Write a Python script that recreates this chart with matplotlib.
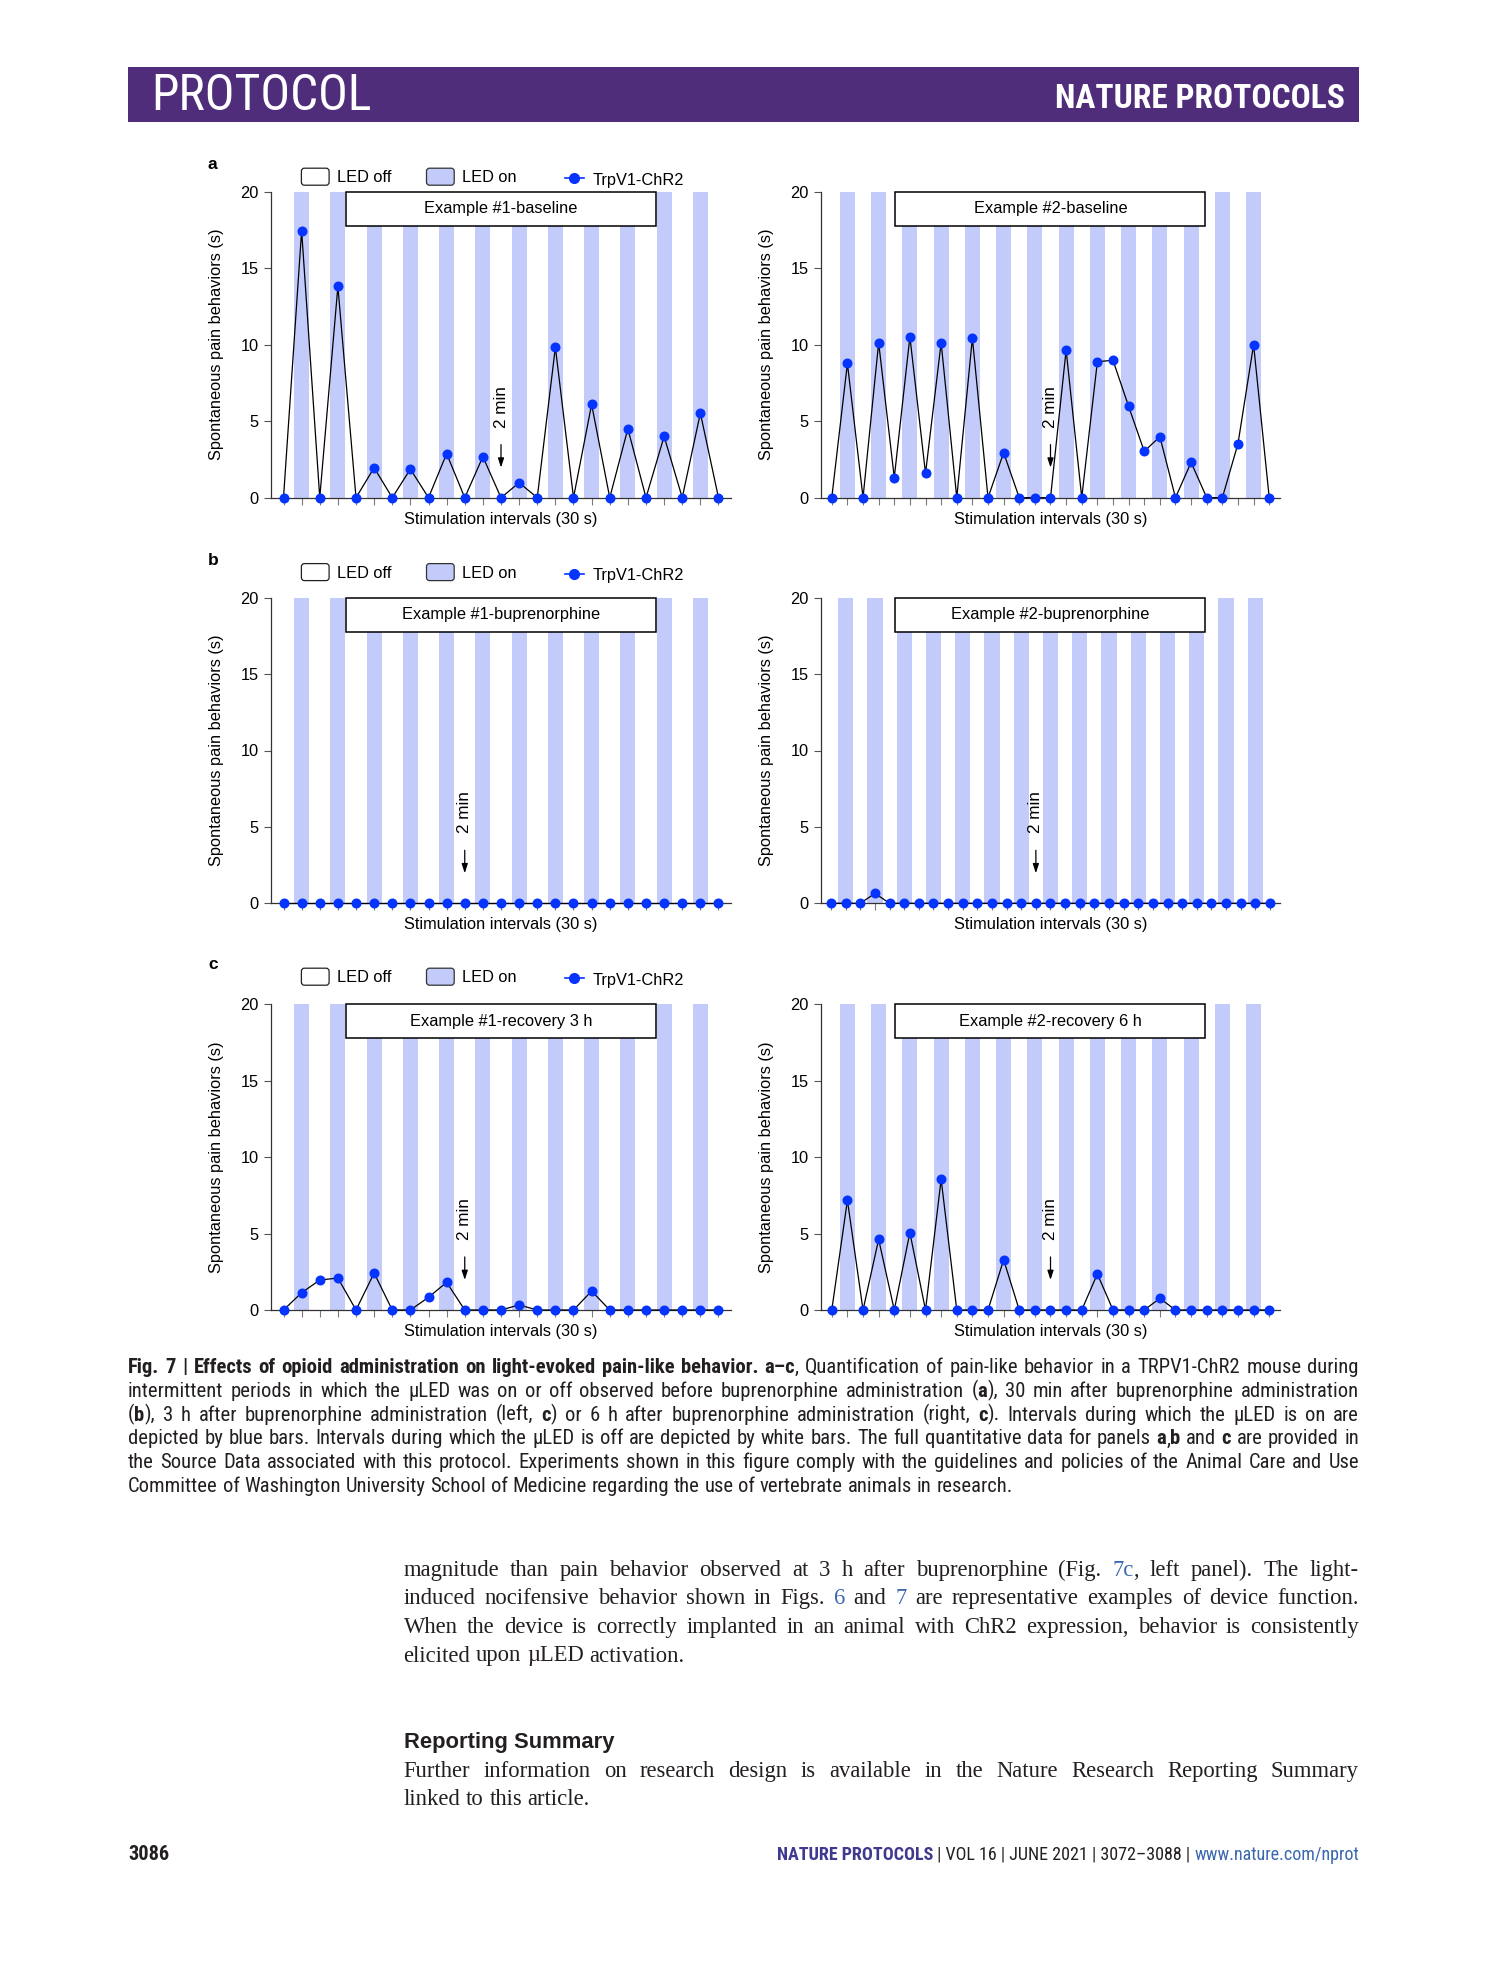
import re
import numpy as np
import matplotlib
matplotlib.use('Agg')
import matplotlib.pyplot as plt
from matplotlib import font_manager
from matplotlib.patches import FancyBboxPatch, Rectangle

W, H = 1489, 1978

# values, one per 30 s stimulation interval
a1_vals = [0, 17.45, 0, 13.81, 0, 1.96, 0, 1.87, 0, 2.88, 0, 2.68, 0,
           0.98, 0, 9.83, 0, 6.10, 0, 4.51, 0, 4.01, 0, 5.53, 0]
a2_vals = [0, 8.78, 0, 10.13, 1.31, 10.52, 1.59, 10.13, 0, 10.44, 0, 2.94,
           0, 0, 0, 9.65, 0, 8.89, 8.98, 5.97, 3.03, 3.99, 0, 2.31, 0, 0,
           3.53, 10.0, 0]
b1_vals = [0, 0, 0, 0, 0, 0, 0, 0, 0, 0, 0, 0, 0, 0, 0, 0, 0, 0, 0, 0, 0, 0,
           0, 0, 0]
b2_vals = [0, 0, 0, 0.65, 0, 0, 0, 0, 0, 0, 0, 0, 0, 0, 0, 0, 0, 0, 0, 0, 0,
           0, 0, 0, 0, 0, 0, 0, 0, 0, 0]
c1_vals = [0, 1.13, 1.96, 2.09, 0, 2.42, 0, 0, 0.83, 1.81, 0, 0, 0, 0.33, 0,
           0, 0, 1.24, 0, 0, 0, 0, 0, 0, 0]
c2_vals = [0, 7.18, 0, 4.62, 0, 5.06, 0, 8.55, 0, 0, 0, 3.29, 0, 0, 0, 0, 0,
           2.36, 0, 0, 0, 0.76, 0, 0, 0, 0, 0, 0, 0]

titles = ['Example #1-baseline', 'Example #2-baseline',
          'Example #1-buprenorphine', 'Example #2-buprenorphine',
          'Example #1-recovery 3 h', 'Example #2-recovery 6 h']
arrow_idx = [12, 14, 10, 14, 10, 14]
yticks = [0, 5, 10, 15, 20]

caption = [
    '**Fig. 7 | Effects of opioid administration on light-evoked pain-like behavior. a\u2013c**, Quantification of pain-like behavior in a TRPV1-ChR2 mouse during',
    'intermittent periods in which the \u00b5LED was on or off observed before buprenorphine administration (**a**), 30 min after buprenorphine administration',
    '(**b**), 3 h after buprenorphine administration (left, **c**) or 6 h after buprenorphine administration (right, **c**). Intervals during which the \u00b5LED is on are',
    'depicted by blue bars. Intervals during which the \u00b5LED is off are depicted by white bars. The full quantitative data for panels **a**,**b** and **c** are provided in',
    'the Source Data associated with this protocol. Experiments shown in this figure comply with the guidelines and policies of the Animal Care and Use',
    'Committee of Washington University School of Medicine regarding the use of vertebrate animals in research.',
]
body1 = [
    'magnitude than pain behavior observed at 3 h after buprenorphine (Fig. [[7c]], left panel). The light-',
    'induced nocifensive behavior shown in Figs. [[6]] and [[7]] are representative examples of device function.',
    'When the device is correctly implanted in an animal with ChR2 expression, behavior is consistently',
    'elicited upon \u00b5LED activation.',
]
body2 = [
    'Further information on research design is available in the Nature Research Reporting Summary',
    'linked to this article.',
]

BAR = '#c2cbfa'
DOT = '#0534ff'
PURPLE = '#4f2d7b'
INK = '#231f20'
LINK = '#3a67b0'
FS = 11.8

names = {f.name for f in font_manager.fontManager.ttflist}
COND = 'Liberation Sans'
for cand in ['Liberation Sans Narrow', 'DejaVu Sans Condensed', 'Roboto Condensed']:
    if cand in names:
        COND = cand
        break

plt.rcParams['font.family'] = ['Liberation Sans', 'DejaVu Sans']

fig = plt.figure(figsize=(W / 100, H / 100), dpi=100)
R = fig.canvas.get_renderer()

pg = fig.add_axes([0, 0, 1, 1])
pg.set_xlim(0, W)
pg.set_ylim(H, 0)
pg.axis('off')


def text_width(s, **kw):
    t = pg.text(0, 0, s, **kw)
    w = t.get_window_extent(renderer=R).width
    t.remove()
    return w


def fit_text(x, y, s, width, ha='left', **kw):
    # size the text so that it spans the measured width
    w = text_width(s, fontsize=20, **kw)
    return pg.text(x, y, s, fontsize=20 * width / w, ha=ha, va='baseline',
                   **kw)


def styled_words(line):
    words = [[]]
    for seg in re.split(r'(\*\*.+?\*\*|\[\[.+?\]\])', line):
        if not seg:
            continue
        st = 'n'
        if seg.startswith('**'):
            seg, st = seg[2:-2], 'b'
        elif seg.startswith('[['):
            seg, st = seg[2:-2], 'l'
        for i, part in enumerate(seg.split(' ')):
            if i > 0:
                words.append([])
            if part:
                words[-1].append((part, st))
    return [w for w in words if w]


def widest_line(lines, st):
    sp = text_width('a a', **st['n']) - text_width('aa', **st['n'])
    widest = 0
    for line in lines:
        ww = styled_words(line)
        tot = sum(text_width(p, **st[s]) for w in ww for p, s in w)
        widest = max(widest, tot + sp * (len(ww) - 1))
    return widest, sp


def text_block(lines, x0, x1, y0, dy, styles, size, fill=None):
    st = {k: dict(v, fontsize=size) for k, v in styles.items()}
    widest, sp = widest_line(lines, st)
    if fill is not None or widest > (x1 - x0):
        size = size * (fill or 1.0) * (x1 - x0) / widest
        st = {k: dict(v, fontsize=size) for k, v in styles.items()}
        widest, sp = widest_line(lines, st)
    for k, line in enumerate(lines):
        y = y0 + k * dy
        items = []
        for w in styled_words(line):
            pcs = []
            for p, s in w:
                t = pg.text(0, y, p, ha='left', va='baseline', **st[s])
                pcs.append((t, t.get_window_extent(renderer=R).width))
            items.append(pcs)
        widths = [sum(p[1] for p in pcs) for pcs in items]
        if k == len(lines) - 1:
            gap = sp
        else:
            gap = (x1 - x0 - sum(widths)) / (len(items) - 1)
        x = x0
        for pcs, wd in zip(items, widths):
            xx = x
            for t, tw in pcs:
                t.set_x(xx)
                xx += tw
            x += wd + gap


# header bar
pg.add_patch(Rectangle((128, 67), 1231, 55, fc=PURPLE, ec='none'))
fit_text(151, 110, 'PROTOCOL', 221, family=COND, color='white')
fit_text(1345, 107.7, 'NATURE PROTOCOLS', 290, ha='right', family=COND,
         weight='bold', color='white')

# panels
LEFT = (271, 731)
RIGHT = (821, 1280)
ROWS = [(191.7, 497.7), (597.7, 903.3), (1004.3, 1310)]
LEG_Y = [176.7, 572.1, 976.7]
all_vals = [a1_vals, a2_vals, b1_vals, b2_vals, c1_vals, c2_vals]

for i, vals in enumerate(all_vals):
    x0, x1 = LEFT if i % 2 == 0 else RIGHT
    y0, y1 = ROWS[i // 2]
    ax = fig.add_axes([x0 / W, 1 - y1 / H, (x1 - x0) / W, (y1 - y0) / H])
    n = len(vals)
    x = np.arange(n)
    ax.set_xlim(-0.69, n - 1 + 0.69)
    ax.set_ylim(0, 20)
    unit = (x1 - x0) / (n - 1 + 1.38)
    ax.bar(x[1::2], 20, width=15.2 / unit, color=BAR, zorder=1)
    ax.plot(x, vals, color='black', lw=0.9, zorder=3, clip_on=False)
    ax.plot(x, vals, 'o', color=DOT, ms=6.2, zorder=4, clip_on=False)

    bw = 310 / (x1 - x0)
    bh = 34 / (y1 - y0)
    ax.add_patch(Rectangle((0.5 - bw / 2, 1 - bh), bw, bh,
                           transform=ax.transAxes, fc='white', ec='black',
                           lw=1.1, zorder=6, clip_on=False))
    ax.text(0.5, 1 - bh / 2, titles[i], transform=ax.transAxes, ha='center',
            va='center', fontsize=FS, zorder=7)

    ai = arrow_idx[i]
    ax.text(ai, 4.58, '2 min', rotation=90, ha='center', va='bottom',
            fontsize=12.3, zorder=5)
    ax.annotate('', xy=(ai, 1.97), xytext=(ai, 3.47), zorder=5,
                arrowprops=dict(arrowstyle='-|>,head_length=0.55,head_width=0.18',
                                color='black', lw=0.9, shrinkA=0, shrinkB=0))

    ax.set_xticks(x)
    ax.set_xticklabels([])
    ax.set_yticks(yticks)
    ax.tick_params(axis='x', direction='out', length=5, width=0.8,
                   color='#7a7a7a')
    ax.tick_params(axis='y', direction='out', length=5, width=0.8,
                   color='#555555', labelsize=FS, pad=4)
    for side in ['top', 'right']:
        ax.spines[side].set_visible(False)
    for side in ['left', 'bottom']:
        ax.spines[side].set_color('#333333')
        ax.spines[side].set_linewidth(0.9)
    ax.set_facecolor('none')

    ax.set_ylabel('Spontaneous pain behaviors (s)', fontsize=FS)
    ax.yaxis.label.set_va('center')
    ax.yaxis.set_label_coords(-54 / (x1 - x0), 0.5)
    ax.set_xlabel('Stimulation intervals (30 s)', fontsize=FS)
    ax.xaxis.label.set_va('center')
    ax.xaxis.set_label_coords(0.5, -21.5 / (y1 - y0))

# legend rows and panel letters
for k, yc in enumerate(LEG_Y):
    pg.text(208, yc - 7.4, 'abc'[k], fontsize=12.5, weight='bold',
            va='baseline')
    pg.add_patch(FancyBboxPatch((301.4, yc - 8.5), 27.7, 17,
                                boxstyle='round,pad=0,rounding_size=3',
                                fc='white', ec='#222222', lw=0.9))
    pg.text(337, yc + 5.8, 'LED off', fontsize=FS, va='baseline')
    pg.add_patch(FancyBboxPatch((426.5, yc - 8.5), 27.7, 17,
                                boxstyle='round,pad=0,rounding_size=3',
                                fc=BAR, ec='#333333', lw=0.9))
    pg.text(462, yc + 5.8, 'LED on', fontsize=FS, va='baseline')
    pg.plot([565, 583.7], [yc + 1.5, yc + 1.5], color=DOT, lw=1.2)
    pg.plot([574.2], [yc + 1.5], 'o', color=DOT, ms=7)
    pg.text(592.2, yc + 7.8, 'TrpV1-ChR2', fontsize=FS, va='baseline')

# caption
cap_styles = {
    'n': dict(family=COND, color=INK),
    'b': dict(family=COND, color=INK, weight='bold'),
    'l': dict(family=COND, color=LINK),
}
text_block(caption, 128, 1359, 1373, 23.8, cap_styles, 12.5, fill=0.985)

# body text
serif = {
    'n': dict(family='Liberation Serif', color=INK),
    'b': dict(family='Liberation Serif', color=INK, weight='bold'),
    'l': dict(family='Liberation Serif', color=LINK),
}
text_block(body1, 403.6, 1359, 1575.7, 28.6, serif, 16.3)
fit_text(403.6, 1748, 'Reporting Summary', 210, family='Liberation Sans',
         weight='bold', color=INK)
text_block(body2, 403.6, 1359, 1776.7, 28.6, serif, 16.3)

# footer
fit_text(128, 1860, '3086', 41, family=COND, weight='bold', color=INK)
foot = [('www.nature.com/nprot', dict(color=LINK)),
        (' | VOL 16 | JUNE 2021 | 3072\u20133088 | ', dict(color=INK)),
        ('NATURE PROTOCOLS', dict(color='#3f3a8f', weight='bold'))]
foot_w = sum(text_width(s, family=COND, fontsize=10, **kw) for s, kw in foot)
foot_fs = 10 * 580 / foot_w
xr = 1359
for s, kw in foot:
    t = pg.text(xr, 1860, s, family=COND, fontsize=foot_fs, ha='right',
                va='baseline', **kw)
    xr -= t.get_window_extent(renderer=R).width

fig.savefig('out.png', dpi=100, facecolor='white')
